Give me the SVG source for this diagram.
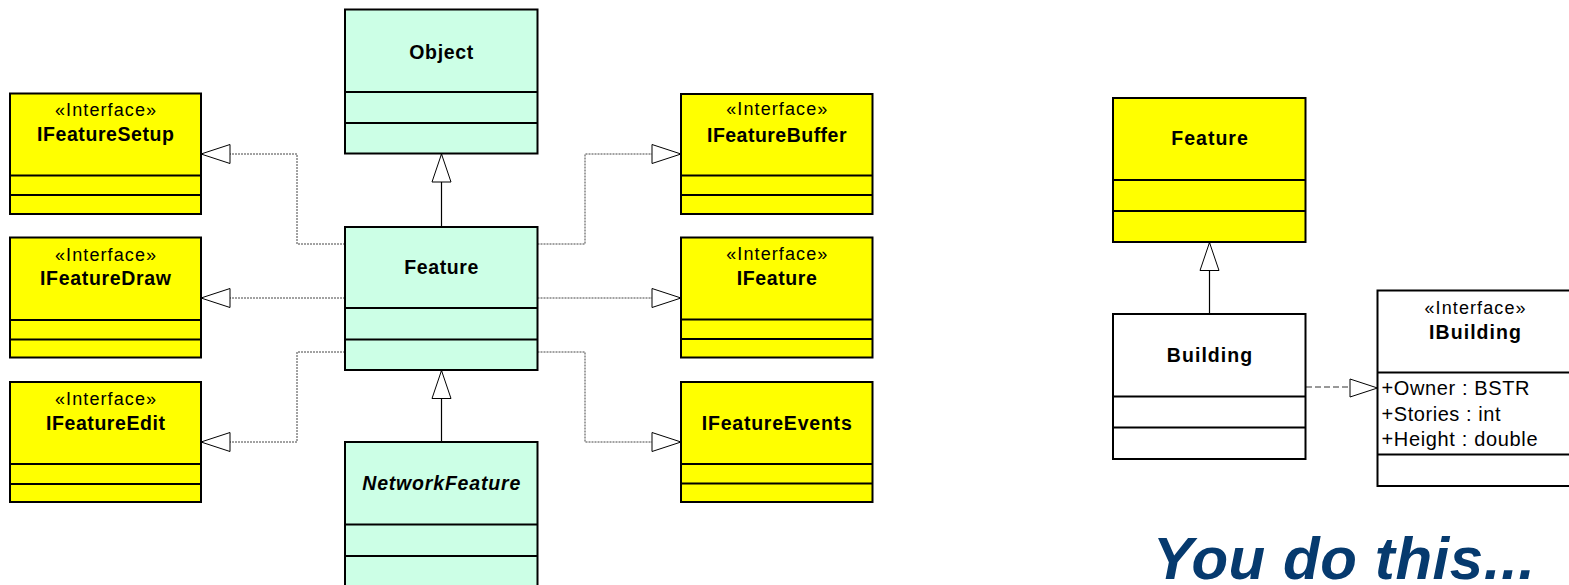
<svg xmlns="http://www.w3.org/2000/svg" width="1569" height="585" viewBox="0 0 1569 585">
  <style>
    .box { stroke: #000; stroke-width: 2; }
    .mint { fill: #ccffe6; }
    .yellow { fill: #ffff00; }
    .white { fill: #ffffff; }
    .div { stroke: #000; stroke-width: 2; }
    .name { font-family: "Liberation Sans", Arial, sans-serif; font-size: 19.5px; font-weight: bold; fill: #000; text-anchor: middle; }
    .stereo { font-family: "Liberation Sans", Arial, sans-serif; font-size: 18px; fill: #000; text-anchor: middle; }
    .attr { font-family: "Liberation Sans", Arial, sans-serif; font-size: 20px; fill: #000; }
    .real { fill: none; stroke: #444; stroke-width: 1; stroke-dasharray: 2 1; }
    .dash { fill: none; stroke: #333; stroke-width: 1; stroke-dasharray: 6 3; }
    .gen { fill: none; stroke: #000; stroke-width: 1.2; }
    .title { font-family: "Liberation Sans", Arial, sans-serif; font-size: 60px; font-weight: bold; font-style: italic; fill: #063a6e; }
  </style>
  <defs>
    <marker id="hollow" markerUnits="userSpaceOnUse" markerWidth="32" markerHeight="24" refX="29" refY="11" orient="auto" overflow="visible">
      <path d="M1,1.5 L29,11 L1,20.5 Z" fill="#fff" stroke="#000" stroke-width="1"/>
    </marker>
  </defs>

  <!-- connectors -->
  <g id="connectors">
    <path class="gen" d="M441.5,227 V154" marker-end="url(#hollow)"/>
    <path class="gen" d="M441.5,442 V370.5" marker-end="url(#hollow)"/>
    <path class="real" d="M345,244 H297 V154 H201"/>
    <path class="real" d="M345,298 H201"/>
    <path class="real" d="M345,352 H297 V442 H201"/>
    <path class="real" d="M537.5,244 H585 V154 H681"/>
    <path class="real" d="M537.5,298 H681"/>
    <path class="real" d="M537.5,352 H585 V442 H681"/>
    <path class="gen" d="M1209.5,314 V242.5" marker-end="url(#hollow)"/>
    <path class="dash" d="M1306,387 H1348 L1377.5,388"/>
    <!-- realization heads -->
    <g fill="#fff" stroke="#000" stroke-width="1">
      <polygon points="201,154 230,144.5 230,163.5"/>
      <polygon points="201,298 230,288.5 230,307.5"/>
      <polygon points="201,442 230,432.5 230,451.5"/>
      <polygon points="681,154 652,144.5 652,163.5"/>
      <polygon points="681,298 652,288.5 652,307.5"/>
      <polygon points="681,442 652,432.5 652,451.5"/>
      <polygon points="1377.5,388 1350,379 1350,397"/>
    </g>
  </g>

  <!-- left interfaces -->
  <g id="IFeatureSetup">
    <rect class="box yellow" x="10" y="93.5" width="191" height="120.5"/>
    <line class="div" x1="10" y1="175.5" x2="201" y2="175.5"/>
    <line class="div" x1="10" y1="195" x2="201" y2="195"/>
    <text class="stereo" x="105.5" y="115.5" textLength="101">«Interface»</text>
    <text class="name" x="105.5" y="141" textLength="137">IFeatureSetup</text>
  </g>
  <g id="IFeatureDraw">
    <rect class="box yellow" x="10" y="237.5" width="191" height="120"/>
    <line class="div" x1="10" y1="320" x2="201" y2="320"/>
    <line class="div" x1="10" y1="339.5" x2="201" y2="339.5"/>
    <text class="stereo" x="105.5" y="260.5" textLength="101">«Interface»</text>
    <text class="name" x="105.5" y="285" textLength="131">IFeatureDraw</text>
  </g>
  <g id="IFeatureEdit">
    <rect class="box yellow" x="10" y="382" width="191" height="120"/>
    <line class="div" x1="10" y1="464" x2="201" y2="464"/>
    <line class="div" x1="10" y1="484" x2="201" y2="484"/>
    <text class="stereo" x="105.5" y="404.5" textLength="101">«Interface»</text>
    <text class="name" x="105.5" y="430" textLength="119">IFeatureEdit</text>
  </g>

  <!-- class hierarchy -->
  <g id="Object">
    <rect class="box mint" x="345" y="9.5" width="192.5" height="144"/>
    <line class="div" x1="345" y1="92" x2="537.5" y2="92"/>
    <line class="div" x1="345" y1="123" x2="537.5" y2="123"/>
    <text class="name" x="441.25" y="59" textLength="64">Object</text>
  </g>
  <g id="Feature">
    <rect class="box mint" x="345" y="227" width="192.5" height="143"/>
    <line class="div" x1="345" y1="308" x2="537.5" y2="308"/>
    <line class="div" x1="345" y1="339.5" x2="537.5" y2="339.5"/>
    <text class="name" x="441.25" y="274" textLength="74">Feature</text>
  </g>
  <g id="NetworkFeature">
    <rect class="box mint" x="345" y="442" width="192.5" height="160"/>
    <line class="div" x1="345" y1="524.5" x2="537.5" y2="524.5"/>
    <line class="div" x1="345" y1="556" x2="537.5" y2="556"/>
    <text class="name" x="441.25" y="489.5" font-style="italic" textLength="158">NetworkFeature</text>
  </g>

  <!-- right interfaces -->
  <g id="IFeatureBuffer">
    <rect class="box yellow" x="681" y="94" width="191.5" height="120"/>
    <line class="div" x1="681" y1="175.5" x2="872.5" y2="175.5"/>
    <line class="div" x1="681" y1="195" x2="872.5" y2="195"/>
    <text class="stereo" x="776.75" y="114.5" textLength="101">«Interface»</text>
    <text class="name" x="776.75" y="141.5" textLength="139.5">IFeatureBuffer</text>
  </g>
  <g id="IFeature">
    <rect class="box yellow" x="681" y="237.5" width="191.5" height="120"/>
    <line class="div" x1="681" y1="319.5" x2="872.5" y2="319.5"/>
    <line class="div" x1="681" y1="339" x2="872.5" y2="339"/>
    <text class="stereo" x="776.75" y="259.5" textLength="101">«Interface»</text>
    <text class="name" x="776.75" y="285" textLength="80">IFeature</text>
  </g>
  <g id="IFeatureEvents">
    <rect class="box yellow" x="681" y="382" width="191.5" height="120"/>
    <line class="div" x1="681" y1="464" x2="872.5" y2="464"/>
    <line class="div" x1="681" y1="483.5" x2="872.5" y2="483.5"/>
    <text class="name" x="776.75" y="430" textLength="150">IFeatureEvents</text>
  </g>

  <!-- exercise: Building -->
  <g id="FeatureBase">
    <rect class="box yellow" x="1113" y="98" width="192.5" height="144"/>
    <line class="div" x1="1113" y1="180" x2="1305.5" y2="180"/>
    <line class="div" x1="1113" y1="211" x2="1305.5" y2="211"/>
    <text class="name" x="1209.5" y="145" textLength="76.5">Feature</text>
  </g>
  <g id="Building">
    <rect class="box white" x="1113" y="314" width="192.5" height="145"/>
    <line class="div" x1="1113" y1="396.5" x2="1305.5" y2="396.5"/>
    <line class="div" x1="1113" y1="427.5" x2="1305.5" y2="427.5"/>
    <text class="name" x="1209.5" y="361.5" textLength="85.5">Building</text>
  </g>
  <g id="IBuilding">
    <rect class="box white" x="1377.5" y="290.5" width="200" height="195.5"/>
    <line class="div" x1="1377.5" y1="372.5" x2="1577.5" y2="372.5"/>
    <line class="div" x1="1377.5" y1="454.5" x2="1577.5" y2="454.5"/>
    <text class="stereo" x="1475" y="313.5" textLength="101">«Interface»</text>
    <text class="name" x="1475" y="339" textLength="92">IBuilding</text>
    <text class="attr" x="1381.5" y="395" textLength="148">+Owner : BSTR</text>
    <text class="attr" x="1381.5" y="420.5" textLength="119">+Stories : int</text>
    <text class="attr" x="1381.5" y="445.5" textLength="156">+Height : double</text>
  </g>

  <text class="title" x="1153" y="579" textLength="382">You do this...</text>
</svg>
